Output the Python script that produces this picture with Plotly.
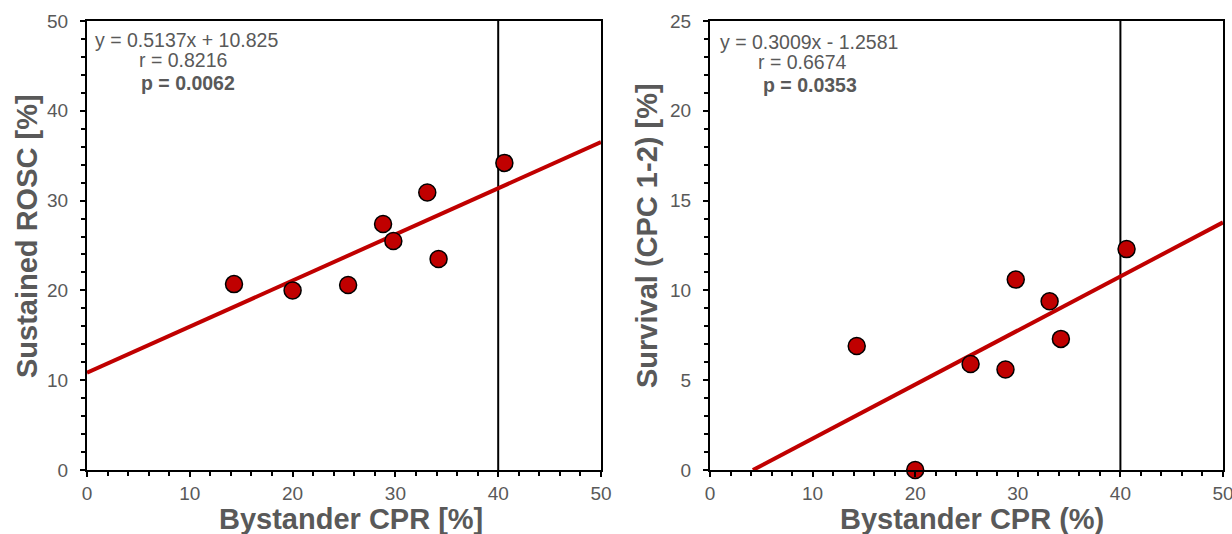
import plotly.graph_objects as go

# ---- data ----
bystander_cpr = [14.3, 20.0, 25.4, 28.8, 29.8, 33.1, 34.2, 40.6]
sustained_rosc = [20.7, 20.0, 20.6, 27.4, 25.5, 30.9, 23.5, 34.2]
survival_cpc = [6.9, 0.0, 5.9, 5.6, 10.6, 9.4, 7.3, 12.3]

rosc_fit = {"slope": 0.5137, "intercept": 10.825}
surv_fit = {"slope": 0.3009, "intercept": -1.2581}

rosc_stats = ["y = 0.5137x + 10.825", "r = 0.8216", "p = 0.0062"]
surv_stats = ["y = 0.3009x - 1.2581", "r = 0.6674", "p = 0.0353"]

x_titles = ["Bystander CPR [%]", "Bystander CPR (%)"]
y_titles = ["Sustained ROSC [%]", "Survival (CPC 1-2) [%]"]

x_range = [0, 50]
threshold_x = 40

RED = "#C00000"
GRAY = "#595959"
FONT = "Liberation Sans, Arial, sans-serif"

fig = go.Figure()

marker = dict(size=17, color=RED, line=dict(color="black", width=1.5))

# left panel
xl = [x_range[0], x_range[1]]
yl = [rosc_fit["slope"] * v + rosc_fit["intercept"] for v in xl]
fig.add_trace(go.Scatter(x=xl, y=yl, mode="lines", line=dict(color=RED, width=4),
                         xaxis="x", yaxis="y", showlegend=False))
fig.add_trace(go.Scatter(x=bystander_cpr, y=sustained_rosc, mode="markers",
                         marker=marker, xaxis="x", yaxis="y", cliponaxis=False,
                         showlegend=False))

# right panel
x0r = max(x_range[0], -surv_fit["intercept"] / surv_fit["slope"])
xr = [x0r, x_range[1]]
yr = [surv_fit["slope"] * v + surv_fit["intercept"] for v in xr]
fig.add_trace(go.Scatter(x=xr, y=yr, mode="lines", line=dict(color=RED, width=4),
                         xaxis="x2", yaxis="y2", showlegend=False))
fig.add_trace(go.Scatter(x=bystander_cpr, y=survival_cpc, mode="markers",
                         marker=marker, xaxis="x2", yaxis="y2", cliponaxis=False,
                         showlegend=False))

W, H = 1232, 534
ml, mr, mt, mb = 87, 9, 21, 64
pw = W - ml - mr

def dom(a, b):
    return [(a - ml) / pw, (b - ml) / pw]

minor_x = dict(dtick=2, ticks="outside", ticklen=4, tickwidth=1.5, tickcolor="black")
common_x = dict(range=x_range, dtick=10, tick0=0, showgrid=False, zeroline=False,
                showline=True, linecolor="black", linewidth=2, mirror=True,
                ticks="outside", ticklen=5, tickwidth=2, tickcolor="black",
                minor=minor_x, automargin=False, ticklabeloverflow="allow",
                tickfont=dict(family=FONT, size=19, color=GRAY))
common_y = dict(showgrid=False, zeroline=False,
                showline=True, linecolor="black", linewidth=2, mirror=True,
                ticks="outside", ticklen=5, tickwidth=2, tickcolor="black",
                ticklabelstandoff=8, automargin=False,
                tickfont=dict(family=FONT, size=19, color=GRAY))

fig.update_layout(
    width=W, height=H, autosize=False,
    margin=dict(l=ml, r=mr, t=mt, b=mb),
    plot_bgcolor="white", paper_bgcolor="white",
    font=dict(family=FONT, color=GRAY),
    xaxis=dict(common_x, domain=dom(87, 601), anchor="y"),
    yaxis=dict(common_y, domain=[0, 1], anchor="x", range=[0, 50], dtick=10,
               minor=dict(dtick=2, ticks="outside", ticklen=4, tickwidth=1.5, tickcolor="black")),
    xaxis2=dict(common_x, domain=dom(710, 1223), anchor="y2"),
    yaxis2=dict(common_y, domain=[0, 1], anchor="x2", range=[0, 25], dtick=5,
                minor=dict(dtick=1, ticks="outside", ticklen=4, tickwidth=1.5, tickcolor="black")),
)

for xa, ya in (("x", "y"), ("x2", "y2")):
    fig.add_shape(type="line", xref=xa, yref=ya + " domain", x0=threshold_x, x1=threshold_x,
                  y0=0, y1=1, line=dict(color="black", width=2), layer="below")

def add_stats(xref, yref, lines, offsets):
    for i, (txt, (dx, dy)) in enumerate(zip(lines, offsets)):
        fig.add_annotation(xref=xref + " domain", yref=yref + " domain", x=dx, y=dy,
                           xanchor="left", yanchor="middle", showarrow=False,
                           text=("<b>%s</b>" % txt) if i == 2 else txt,
                           font=dict(family=FONT, size=19.5, color=GRAY))

add_stats("x", "y", rosc_stats, [(0.012, 0.957), (0.098, 0.913), (0.101, 0.862)])
add_stats("x2", "y2", surv_stats, [(0.015, 0.954), (0.089, 0.908), (0.099, 0.857)])

# axis titles (pixel positions converted to paper fractions)
title_font = dict(family=FONT, size=29, color=GRAY)
for txt, px in zip(x_titles, (351, 972)):
    fig.add_annotation(xref="paper", yref="paper",
                       x=(px - ml) / pw, y=-(519 - (H - mb)) / (H - mt - mb),
                       xanchor="center", yanchor="middle", showarrow=False,
                       text="<b>%s</b>" % txt, font=title_font)
for txt, px in zip(y_titles, (27, 647)):
    fig.add_annotation(xref="paper", yref="paper",
                       x=(px - ml) / pw, y=((H - mb) - 236) / (H - mt - mb),
                       xanchor="center", yanchor="middle", showarrow=False, textangle=-90,
                       text="<b>%s</b>" % txt, font=title_font)

fig.write_html(
    "out.html",
    config={"displayModeBar": False, "responsive": False},
    post_script=("document.documentElement.style.overflow='hidden';"
                 "document.body.style.overflow='hidden';"
                 "document.body.style.margin='0';"),
)
